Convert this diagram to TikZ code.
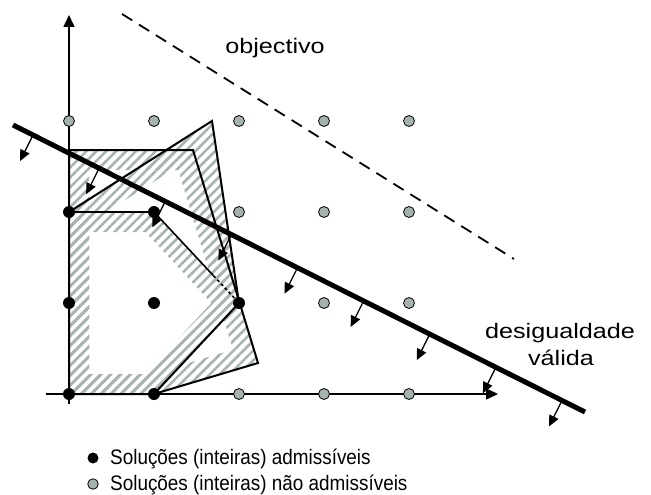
\documentclass[tikz,border=0pt]{standalone}
\usepackage{fontspec}
\setmainfont{Liberation Sans}
\usetikzlibrary{arrows.meta,patterns.meta,calc}
\definecolor{dotgray}{RGB}{166,178,176}
\definecolor{hatchgray}{RGB}{168,180,178}
\begin{document}
\begin{tikzpicture}[x=1pt,y=-1pt,
  adm/.style={circle,fill=black,inner sep=0pt,minimum size=12pt},
  nadm/.style={circle,fill=dotgray,draw=black,line width=0.8pt,inner sep=0pt,minimum size=11pt},
  axisline/.style={line width=1.5pt,-{Triangle[length=12pt,width=11pt]}},
  edgeline/.style={line width=2pt,line join=miter},
  band/.style={pattern={Lines[angle=45,distance=7pt,line width=2.6pt]},pattern color=hatchgray,even odd rule},
  cutarrow/.style={line width=1.3pt,-{Triangle[length=11pt,width=10pt]}},
  lbl/.style={font=\fontsize{21}{25}\selectfont,inner sep=0pt},
  leg/.style={font=\fontsize{21}{25}\selectfont,inner sep=0pt}
]
\useasboundingbox (0,0) rectangle (651,495);

% grid positions
\foreach \i in {0,...,4}
  \foreach \j in {0,...,3}
    \coordinate (c\i\j) at ({69+85*\i},{394-91*\j});

% polygon corners
\coordinate (A2) at (69,150);
\coordinate (A3) at (193,150);
\coordinate (A4) at (258,363);
\coordinate (B2) at (212,121);

% hatched bands (polygon minus inset)
\fill[band] (c00)--(A2)--(A3)--(A4)--(c10)--cycle
  (89,374)--(89,170)--(178.2,170)--(233.0,349.6)--(151.0,374)--cycle;
\fill[band] (c02)--(B2)--(c21)--(c10)--(c00)--cycle
  (89,223)--(196.7,154.4)--(217.8,296.4)--(145.3,374)--(89,374)--cycle;
\fill[band] (c00)--(c10)--(c21)--(c12)--(c02)--cycle
  (89,374)--(145.3,374)--(211.6,303)--(145.3,232)--(89,232)--cycle;

% axes
\coordinate (yb) at (69,404);
\coordinate (yt) at (69,15);
\coordinate (xl) at (46,394);
\coordinate (xr) at (498,394);
\draw[axisline] (yb)--(yt);
\draw[axisline] (xl)--(xr);

% polygon edges
\draw[edgeline] (c10)--(c00)--(A2)--(A3)--(A4)--(c10);
\draw[edgeline] (c02)--(B2)--(c21);
\draw[edgeline] (c21)--(c10);
\draw[edgeline] (c02)--(c12);
\coordinate (m) at ($(c12)!0.7!(c21)$);
\draw[line width=1.6pt] (c12)--(m);
\draw[line width=1.6pt,dash pattern=on 3pt off 2.5pt] (m)--(c21);

% objective
\coordinate (O1) at (122,14);
\coordinate (O2) at (514,259);
\draw[line width=1.8pt,dash pattern=on 12pt off 8pt] (O1)--(O2);

% valid inequality
\coordinate (P) at (13,125);
\coordinate (Q) at (585,412);
\draw[line width=5pt] (P)--(Q);
\foreach \k in {0,...,8}{
  \pgfmathsetmacro\t{0.035+0.1156*\k}
  \draw[cutarrow] ($(P)!\t!(Q)$) -- ++(-13,26);
}

% dots
\foreach \i/\j in {0/0,1/0,0/1,1/1,0/2,1/2,2/1}
  \node[adm] (p\i\j) at (c\i\j) {};
\foreach \i/\j in {0/3,1/3,2/3,3/3,4/3,2/2,3/2,4/2,3/1,4/1,2/0,3/0,4/0}
  \node[nadm] (p\i\j) at (c\i\j) {};

% labels
\node[lbl,anchor=base] (obj) at (275,54) {\scalebox{1.2}[1]{objectivo}};
\node[lbl,anchor=base] (des1) at (560,338) {\scalebox{1.2}[1]{desigualdade}};
\node[lbl,anchor=base] (des2) at (561,365) {\scalebox{1.2}[1]{válida}};

% legend
\node[adm,minimum size=11pt] (lb1) at (93,458) {};
\node[nadm,minimum size=10.5pt] (lb2) at (93,484) {};
\node[leg,anchor=base west] (lt1) at (110,464) {\scalebox{0.9}[1]{Soluções (inteiras) admissíveis}};
\node[leg,anchor=base west] (lt2) at (110,490) {\scalebox{0.9}[1]{Soluções (inteiras) não admissíveis}};
\end{tikzpicture}
\end{document}
